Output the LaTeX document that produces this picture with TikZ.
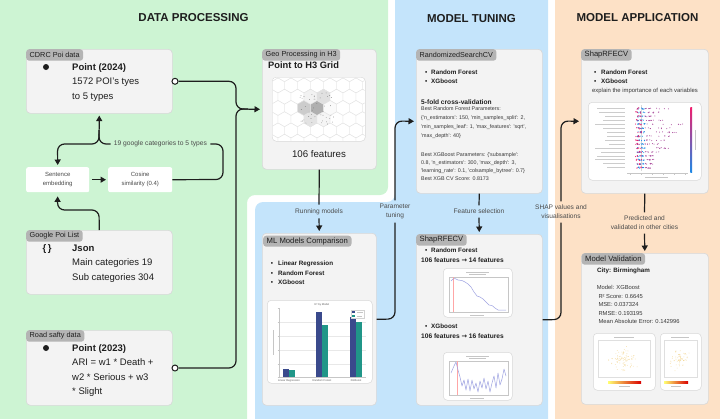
\documentclass[tikz,border=0pt]{standalone}
\usepackage{fontspec}
\setmainfont{Liberation Sans}
\newfontfamily\rawsans{Liberation Sans}
\newfontfamily\arrowfont{DejaVu Sans}
\usetikzlibrary{arrows.meta}

\newcommand\fsz[2]{\fontsize{#1}{#2}\selectfont}
\newcommand\farrow{{\arrowfont\char"2192}}

\definecolor{greenpanel}{RGB}{205,244,211}
\definecolor{bluepanel}{RGB}{196,228,251}
\definecolor{orangepanel}{RGB}{253,225,198}
\definecolor{boxfill}{RGB}{243,243,243}
\definecolor{boxline}{RGB}{216,216,216}
\definecolor{tagfill}{RGB}{180,180,180}
\definecolor{ink}{RGB}{30,30,30}
\definecolor{labelink}{RGB}{75,75,75}
\definecolor{paramink}{RGB}{55,55,55}
\definecolor{barA}{RGB}{58,74,140}
\definecolor{barB}{RGB}{32,150,136}
\definecolor{curve}{RGB}{158,162,225}
\definecolor{shappink}{RGB}{240,30,110}
\definecolor{shapblue}{RGB}{30,136,229}
\definecolor{mapdot}{RGB}{240,200,110}

\newcommand\hexcell[3]{%
  \filldraw[fill=#3, draw=gray!22, line width=0.4pt] (#1,#2) +(90:7.5) -- +(150:7.5) -- +(210:7.5) -- +(270:7.5) -- +(330:7.5) -- +(30:7.5) -- cycle;}

\begin{document}
\begin{tikzpicture}[x=1pt,y=-1pt,
  title/.style={font=\bfseries\fsz{11.5}{13}, text=ink, inner sep=0},
  panelbox/.style={draw=boxline, fill=boxfill, line width=0.6pt, rounded corners=4pt, inner sep=0, anchor=north west},
  whitebox/.style={fill=white, rounded corners=2pt, inner sep=0, anchor=north west, align=center, text=labelink, font=\fsz{6}{9.3}},
  tag/.style={fill=tagfill, rounded corners=3pt, inner xsep=3.5pt, inner ysep=0pt, minimum height=11.5pt, anchor=north west, text=ink, font=\fsz{7.3}{8}},
  picframe/.style={draw=boxline, fill=white, line width=0.5pt, rounded corners=4pt, inner sep=0, anchor=north west},
  conn/.style={draw=ink, line width=1.2pt, rounded corners=7pt},
  arr/.style={-{Triangle[length=5.5pt,width=6pt]}, shorten >=2pt},
  flowlabel/.style={font=\fsz{6.6}{9}, text=labelink, align=center, inner xsep=3pt, inner ysep=3.5pt},
  port/.style={circle, draw=ink, fill=white, line width=1pt, minimum size=6pt, inner sep=0},
  dot/.style={circle, fill=ink, minimum size=6pt, inner sep=0},
  txt/.style={anchor=base west, inner sep=0, text=ink},
  big/.style={txt, font=\fsz{9.5}{12}},
  bigb/.style={txt, font=\bfseries\fsz{9.5}{12}},
  bul/.style={txt, font=\bfseries\fsz{6.3}{8}},
  param/.style={txt, font=\rawsans\fsz{5.35}{7}, text=paramink},
  stat/.style={txt, font=\fsz{5.8}{7}, text=paramink},
  tiny/.style={inner sep=0, text=gray!75!black, font=\fsz{2.7}{3}},
  faint/.style={gray!45, line width=0.6pt},
  axis/.style={gray!45, line width=0.25pt}
]
\useasboundingbox (0,0) rectangle (720,418);

% ---------- column backgrounds ----------
\begin{scope}
  \clip (0,0) rectangle (720,418);
  \fill[greenpanel, rounded corners=8pt] (-20,-20) -- (388,-20) -- (388,195) -- (247,195) -- (247,440) -- (-20,440) -- cycle;
  \fill[bluepanel, rounded corners=8pt] (395,-20) -- (548,-20) -- (548,440) -- (255,440) -- (255,202) -- (395,202) -- cycle;
  \fill[orangepanel, rounded corners=8pt] (555,-20) -- (740,-20) -- (740,440) -- (555,440) -- cycle;
\end{scope}

\node[title] (titledata) at (193.5,18) {DATA PROCESSING};
\node[title] (titletune) at (471.5,19) {MODEL TUNING};
\node[title] (titleapp) at (637.5,18) {MODEL APPLICATION};

% ---------- data processing: sources ----------
\node[panelbox, minimum width=146, minimum height=64] (cdrc) at (26,49) {};
\node[tag] (cdrctag) at (cdrc.north west) {CDRC Poi data};
\node[dot] (cdrcdot) at (46,67) {};
\node[bigb] (cdrc1) at (72,70.3) {Point (2024)};
\node[big] (cdrc2) at (72,84.6) {1572 POI’s tyes};
\node[big] (cdrc3) at (72,99.3) {to 5 types};
\node[port] (cdrcport) at (175,81.3) {};

\node[whitebox, minimum width=63, minimum height=25] (sentence) at (26,167) {Sentence\\embedding};
\node[whitebox, minimum width=64, minimum height=25] (cosine) at (108,167) {Cosine\\similarity (0.4)};

\node[panelbox, minimum width=146, minimum height=64] (google) at (26,230) {};
\node[tag] (googletag) at (google.north west) {Google Poi List};
\node[anchor=base, inner sep=0, font=\bfseries\fsz{9.5}{12}, text=ink] (googlebrace) at (47,251.2) {\{\,\}};
\node[bigb] (google1) at (72,251.2) {Json};
\node[big] (google2) at (72,265.5) {Main categories 19};
\node[big] (google3) at (72,280) {Sub categories 304};

\node[panelbox, minimum width=146, minimum height=75] (road) at (26,330) {};
\node[tag] (roadtag) at (road.north west) {Road safty data};
\node[dot] (roaddot) at (46,348) {};
\node[bigb] (road1) at (72,351.3) {Point (2023)};
\node[big] (road2) at (72,365.5) {ARI = w1 * Death +};
\node[big] (road3) at (72,380) {w2 * Serious + w3};
\node[big] (road4) at (72,394) {* Slight};
\node[port] (roadport) at (175,368) {};

% ---------- geo processing ----------
\node[panelbox, minimum width=114, minimum height=120] (geo) at (262,49) {};
\node[tag] (geotag) at (geo.north west) {Geo Processing in H3};
\node[txt, font=\bfseries\fsz{9.3}{11}] (geotitle) at (268,68.2) {Point to H3 Grid};
\node[picframe, minimum width=93, minimum height=64] (geoimg) at (272,77) {};
\begin{scope}
  \clip[rounded corners=4pt] (272.5,77.5) rectangle (364.5,140.5);
  \foreach \j in {-3,...,3}{
    \foreach \i in {-5,...,5}{
      \pgfmathsetmacro\hx{317+13*\i+6.5*mod(abs(\j),2)}
      \pgfmathsetmacro\hy{108+11.25*\j}
      \hexcell{\hx}{\hy}{white}
    }
  }
  \hexcell{317}{108}{gray!62}
  \hexcell{304}{108}{gray!40}
  \hexcell{330}{108}{gray!4}
  \hexcell{310.5}{96.75}{gray!10}
  \hexcell{323.5}{96.75}{gray!24}
  \hexcell{310.5}{119.25}{gray!22}
  \hexcell{323.5}{119.25}{gray!8}
  \pgfmathsetseed{7}
  \foreach \n in {1,...,45}{
    \pgfmathsetmacro\dx{300+rnd*34}
    \pgfmathsetmacro\dy{91+rnd*33}
    \fill[gray!75!black] (\dx,\dy) circle (0.35);
  }
\end{scope}
\node[anchor=base, inner sep=0, font=\fsz{9.7}{11}, text=ink] (geofeat) at (319,157.2) {106 features};

% ---------- model comparison ----------
\node[panelbox, minimum width=114, minimum height=172] (ml) at (262,233) {};
\node[tag, font=\fsz{7.7}{9}, minimum height=11pt] (mltag) at ([shift={(1,2.5)}]ml.north west) {ML Models Comparison};
\node[bul] (mlb1) at (270.6,265.2) {\makebox[7.4pt][l]{•}Linear Regression};
\node[bul] (mlb2) at (270.6,275.2) {\makebox[7.4pt][l]{•}Random Forest};
\node[bul] (mlb3) at (270.6,284.2) {\makebox[7.4pt][l]{•}XGboost};
\node[picframe, minimum width=105, minimum height=83] (mlchart) at (267,300) {};
\node[tiny] (mlcharttitle) at (322,304.5) {R² by Model};
\foreach \g in {322,336,350,364} \draw[gray!18, line width=0.2pt] (279,\g) -- (366,\g);
\draw[axis] (279,308) -- (279,377) -- (366,377);
\foreach \g in {308,322,336,350,364,377} \draw[axis] (277.5,\g) -- (279,\g);
\fill[barA] (283,369) rectangle (289,377);
\fill[barB] (289,370) rectangle (295,377);
\fill[barA] (316,312) rectangle (322,377);
\fill[barB] (322,325) rectangle (328,377);
\fill[barA] (349.5,317) rectangle (356,377);
\fill[barB] (356,322) rectangle (362,377);
\draw[gray!35, line width=0.2pt, fill=white] (351,310) rectangle (364.5,318.5);
\fill[barA] (352.3,311.3) rectangle (355.3,313.3);
\fill[barB] (352.3,315.2) rectangle (355.3,317.2);
\draw[faint, line width=0.4pt] (357,312.3) -- (362.5,312.3);
\draw[faint, line width=0.4pt] (357,316.2) -- (361.5,316.2);
\node[tiny] (mlcat1) at (289,380.3) {Linear Regression};
\node[tiny] (mlcat2) at (322,380.3) {Random Forest};
\node[tiny] (mlcat3) at (356,380.3) {XGBoost};
\draw[faint, line width=0.4pt] (273,330) -- (273,355);

% ---------- randomized search ----------
\node[panelbox, minimum width=126, minimum height=144] (rscv) at (416,49) {};
\node[tag, font=\fsz{7.2}{9}] (rscvtag) at (rscv.north west) {RandomizedSearchCV};
\node[bul] (rscvb1) at (424.9,74.2) {\makebox[6.1pt][l]{•}Random Forest};
\node[bul] (rscvb2) at (424.9,83.2) {\makebox[6.1pt][l]{•}XGboost};
\node[txt, font=\bfseries\fsz{6.6}{8}] (rscvcv) at (421,104.2) {5-fold cross-validation};
\node[param] (rscvp1) at (421,110.2) {Best Random Forest Parameters:};
\node[param] (rscvp2) at (421,119.2) {\{'n\_estimators': 150, 'min\_samples\_split': 2,};
\node[param] (rscvp3) at (421,128.2) {'min\_samples\_leaf': 1, 'max\_features': 'sqrt',};
\node[param] (rscvp4) at (421,137) {'max\_depth': 40\}};
\node[param] (rscvp5) at (421,156) {Best XGBoost Parameters: \{'subsample':};
\node[param] (rscvp6) at (421,164.6) {0.8, 'n\_estimators': 300, 'max\_depth': 3,};
\node[param] (rscvp7) at (421,172.6) {'learning\_rate': 0.1, 'colsample\_bytree': 0.7\}};
\node[param] (rscvp8) at (421,180.2) {Best XGB CV Score: 0.8173};

% ---------- feature selection ----------
\node[panelbox, minimum width=126, minimum height=171] (shapm) at (416,234) {};
\node[tag, font=\fsz{7.6}{9}] (shapmtag) at (shapm.north west) {ShapRFECV};
\node[bul] (shapmb1) at (424.9,252.9) {\makebox[6.1pt][l]{•}Random Forest};
\node[txt, font=\bfseries\fsz{6.6}{8}] (shapmf1) at (421,262.3) {106 features \farrow{} 14 features};
\node[picframe, minimum width=69, minimum height=49] (shapmc1) at (443,268) {};
\draw[faint, line width=0.5pt] (466,272) -- (489,272);
\draw[faint, line width=0.5pt] (469,274.3) -- (486,274.3);
\draw[axis] (449,277) rectangle (508,312);
\foreach \t in {455,465,475,485,495,505} \draw[axis] (\t,312) -- (\t,313.3);
\draw[red!35, line width=0.5pt] (453.5,277) -- (453.5,312);
\draw[curve, line width=0.5pt, line join=round] plot coordinates {(451,281) (453,279) (455,278.5) (458,280) (462,280.5) (465,282) (468,284) (471,287) (474,292) (477,296) (480,297) (483,299) (486,302) (489,305) (492,305.5) (495,308) (498,310) (502,310) (506,310)};
\draw[faint, line width=0.4pt] (470,315.2) -- (484,315.2);
\node[bul] (shapmb2) at (424.9,328.9) {\makebox[6.1pt][l]{•}XGboost};
\node[txt, font=\bfseries\fsz{6.6}{8}] (shapmf2) at (421,338.3) {106 features \farrow{} 16 features};
\node[picframe, minimum width=69, minimum height=48] (shapmc2) at (443,352) {};
\draw[faint, line width=0.5pt] (466,356) -- (489,356);
\draw[faint, line width=0.5pt] (469,358.3) -- (486,358.3);
\draw[axis] (449,361) rectangle (508,395);
\foreach \t in {455,465,475,485,495,505} \draw[axis] (\t,395) -- (\t,396.3);
\draw[red!35, line width=0.5pt] (457,361) -- (457,395);
\draw[curve, line width=0.5pt, line join=round] plot coordinates {(451,373) (454,366) (456,362) (458,370) (460,377) (462,386) (464,380) (466,390) (468,379) (470,391) (472,380) (474,389) (476,383) (478,392) (480,381) (482,388) (484,378) (486,389) (488,381) (490,392) (492,383) (494,376) (496,388) (498,373) (500,385) (502,379) (504,369) (506,376)};
\draw[faint, line width=0.4pt] (470,398.5) -- (484,398.5);

% ---------- SHAP explanation ----------
\node[panelbox, minimum width=127, minimum height=144] (shapa) at (581,49) {};
\node[tag, font=\fsz{7.6}{9}] (shapatag) at (shapa.north west) {ShapRFECV};
\node[bul] (shapab1) at (594,74) {\makebox[7pt][l]{•}Random Forest};
\node[bul] (shapab2) at (594,83.2) {\makebox[7pt][l]{•}XGboost};
\node[txt, font=\fsz{5.9}{7}, text=paramink] (shapaexp) at (592,92) {explain the importance of each variables};
\node[picframe, minimum width=113, minimum height=78] (shapaplot) at (588,102) {};
\draw[gray!30, line width=0.3pt] (641,105) -- (641,171);
\pgfmathsetseed{42}
\foreach \k/\len/\lw in {0/34/28, 1/14/26, 2/10/20, 3/18/22, 4/38/30, 5/26/22, 6/32/18, 7/30/18, 8/20/20, 9/14/16, 10/24/30, 11/14/24, 12/10/28, 13/10/30, 14/8/22, 15/6/18}{
  \pgfmathsetmacro\yy{108.5+\k*3.95}
  \draw[gray!40, line width=0.8pt] ({625-\lw},\yy) -- (625,\yy);
  \foreach \d in {1,...,9}{
    \pgfmathsetmacro\xx{637+rnd*8}
    \pgfmathsetmacro\yj{\yy+rand*0.7}
    \fill[shapblue] (\xx,\yj) circle (0.55);
  }
  \foreach \d in {1,...,5}{
    \pgfmathsetmacro\xx{635.5+rnd*6}
    \pgfmathsetmacro\yj{\yy+rand*0.7}
    \fill[shappink] (\xx,\yj) circle (0.55);
  }
  \foreach \d in {1,...,9}{
    \pgfmathsetmacro\xx{645+rnd*\len}
    \pgfmathsetmacro\yj{\yy+rand*0.5}
    \fill[shappink!65!shapblue] (\xx,\yj) circle (0.5);
  }
}
\draw[axis] (627,173.5) -- (688,173.5);
\foreach \t in {630,641,652,663,674,685} \draw[axis] (\t,173.5) -- (\t,174.8);
\draw[faint, line width=0.4pt] (645,177) -- (668,177);
\shade[top color=shappink, bottom color=shapblue] (690.3,107) rectangle (692,172);
\draw[faint, line width=0.4pt] (695.5,130) -- (695.5,150);

% ---------- validation ----------
\node[panelbox, minimum width=127, minimum height=151] (valid) at (581,253) {};
\node[tag, font=\fsz{7.7}{9}] (validtag) at ([shift={(0.5,0)}]valid.north west) {Model Validation};
\node[txt, font=\bfseries\fsz{6.25}{8}] (validcity) at (597,272.2) {City: Birmingham};
\node[stat] (valid1) at (596.7,289) {Model: XGBoost};
\node[stat] (valid2) at (598.3,298) {R² Score: 0.6645};
\node[stat] (valid3) at (598.3,306.3) {MSE: 0.037324};
\node[stat] (valid4) at (598.3,315) {RMSE: 0.193195};
\node[stat] (valid5) at (598.3,323.2) {Mean Absolute Error: 0.142996};
\node[picframe, minimum width=62, minimum height=57] (validmap1) at (593,333) {};
\node[picframe, minimum width=41, minimum height=57] (validmap2) at (660,333) {};
\draw[faint, line width=0.4pt] (614,337) -- (634,337);
\draw[faint, line width=0.4pt] (671,337) -- (689,337);
\draw[gray!25, line width=0.25pt] (598,340) rectangle (650,377);
\draw[gray!25, line width=0.25pt] (664,340) rectangle (697,377);
\pgfmathsetseed{3}
\foreach \n in {1,...,90}{
  \pgfmathsetmacro\dx{624+rand*20*rnd}
  \pgfmathsetmacro\dy{359+rand*14*rnd}
  \fill[mapdot, opacity=0.7] (\dx,\dy) circle (0.4);
}
\foreach \n in {1,...,60}{
  \pgfmathsetmacro\dx{680+rand*12*rnd}
  \pgfmathsetmacro\dy{360+rand*14*rnd}
  \fill[mapdot, opacity=0.7] (\dx,\dy) circle (0.4);
}
\shade[left color=yellow!55, right color=red!85!black] (608,381.7) rectangle (641,383.7);
\shade[left color=yellow!55, right color=red!85!black] (664,381.7) rectangle (688,383.7);
\draw[faint, line width=0.35pt] (619,386.5) -- (630,386.5);
\draw[faint, line width=0.35pt] (671,386.5) -- (681,386.5);

% ---------- connectors ----------
\draw[conn, arr] (cdrcport.east) -- (236,81.3) -- (236,109) -- (geo.west);
\draw[conn] (roadport.east) -- (236,368) -- (236,109) -- (248,109);

\node[flowlabel, font=\fsz{6.7}{8}, inner ysep=1pt] (catlabel) at (160.5,144) {19 google categories to 5 types};
\draw[conn] (cosine.east) -- (223,179.5) -- (223,144) -- (catlabel.east);
\draw[conn, arr] (catlabel.west) -- (99,144) -- (cdrc.south);
\draw[conn, arr] (99,130) -- (99,144) -- (57.5,144) -- (sentence.north);
\draw[conn, arr, shorten <=2.5pt] (sentence.east) -- (cosine.west);
\draw[conn, arr, shorten >=4pt] (google.north) -- (99,210) -- (57.5,210) -- (sentence.south);

\node[flowlabel] (runlabel) at (319,211.5) {Running models};
\draw[conn] (geo.south) -- (runlabel.north);
\draw[conn, arr] (runlabel.south) -- (ml.north);

\node[flowlabel] (tunelabel) at (395,211.5) {Parameter\\tuning};
\draw[conn] (ml.east) -- (395,319) -- (tunelabel.south);
\draw[conn, arr] (tunelabel.north) -- (395,121) -- (rscv.west);

\node[flowlabel] (featlabel) at (479,211.5) {Feature selection};
\draw[conn] (rscv.south) -- (featlabel.north);
\draw[conn, arr] (featlabel.south) -- (shapm.north);

\node[flowlabel] (shaplabel) at (561,212) {SHAP values and\\visualisations};
\draw[conn] (shapm.east) -- (561,319.5) -- (shaplabel.south);
\draw[conn, arr] (shaplabel.north) -- (561,121) -- (shapa.west);

\node[flowlabel] (predlabel) at (644.5,223) {Predicted and\\validated in other cities};
\draw[conn] (shapa.south) -- (predlabel.north);
\draw[conn, arr] (predlabel.south) -- (valid.north);
\end{tikzpicture}
\end{document}
